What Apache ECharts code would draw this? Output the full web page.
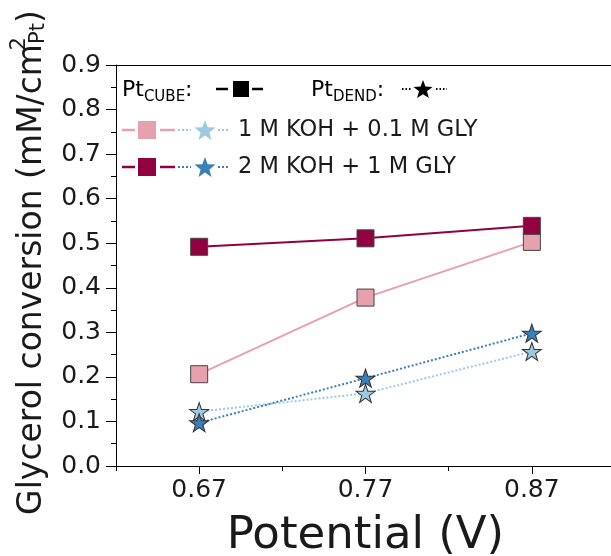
<!DOCTYPE html>
<html>
<head>
<meta charset="utf-8">
<script src="https://cdn.jsdelivr.net/npm/echarts@6/dist/echarts.min.js"></script>
<style>
  html, body { margin: 0; padding: 0; background: #fff; }
  #chart { width: 611px; height: 556px; }
</style>
</head>
<body>
<div id="chart"></div>
<script>
// 数据
var potentials = [0.67, 0.77, 0.87];
var xTicks = [0.67, 0.77, 0.87];
var cubeLow = [0.206, 0.378, 0.503];   // Pt CUBE, 1 M KOH + 0.1 M GLY
var cubeHigh = [0.492, 0.511, 0.539];  // Pt CUBE, 2 M KOH + 1 M GLY
var dendLow = [0.122, 0.163, 0.257];   // Pt DEND, 1 M KOH + 0.1 M GLY
var dendHigh = [0.097, 0.197, 0.298];  // Pt DEND, 2 M KOH + 1 M GLY
var condLabels = ['1 M KOH + 0.1 M GLY', '2 M KOH + 1 M GLY'];

var FONT = 'DejaVu Sans';
var pink = '#e7a0ae', wine = '#91003f', lightBlue = '#9ecae1', darkBlue = '#3a7fba';
var STAR = 'path://M50,0 L61.8,35.1 L98.1,35.1 L68.8,56.7 L79.4,91 L50,70 L20.6,91 L31.2,56.7 L1.9,35.1 L38.2,35.1 Z';

function pts(ys) {
  return potentials.map(function (x, i) { return [x, ys[i]]; });
}

// 图例里的五角星
function starPoints(cx, cy, r) {
  var p = [];
  for (var i = 0; i < 10; i++) {
    var rr = i % 2 === 0 ? r : r * 0.42;
    var a = -Math.PI / 2 + i * Math.PI / 5;
    p.push([cx + rr * Math.cos(a), cy + rr * Math.sin(a)]);
  }
  return p;
}

function legendRow(y, sqColor, starColor, label) {
  return [
    { type: 'line', shape: { x1: 122, y1: y, x2: 135, y2: y }, style: { stroke: sqColor, lineWidth: 2.5 } },
    { type: 'rect', shape: { x: 138, y: y - 9, width: 18, height: 18 }, style: { fill: sqColor } },
    { type: 'line', shape: { x1: 160, y1: y, x2: 175, y2: y }, style: { stroke: sqColor, lineWidth: 2.5 } },
    { type: 'line', shape: { x1: 178, y1: y, x2: 191, y2: y }, style: { stroke: starColor, lineWidth: 2, lineDash: [2, 2] } },
    { type: 'polygon', shape: { points: starPoints(205, y + 1, 11) }, style: { fill: starColor } },
    { type: 'line', shape: { x1: 218, y1: y, x2: 228, y2: y }, style: { stroke: starColor, lineWidth: 2, lineDash: [2, 2] } },
    { type: 'text', style: { text: label, x: 238, y: y, verticalAlign: 'middle', fontSize: 22.5, fontFamily: FONT, fill: '#1a1a1a' } }
  ];
}

var subRich = {
  m: { fontSize: 22, fontFamily: FONT, color: '#1a1a1a', lineHeight: 26, verticalAlign: 'top' },
  s: { fontSize: 15, fontFamily: FONT, color: '#1a1a1a', lineHeight: 16, verticalAlign: 'bottom' }
};

var legendEls = [
  { type: 'text', style: { text: '{m|Pt}{s|CUBE}{m|:}', rich: subRich, x: 122, y: 92, verticalAlign: 'middle' } },
  { type: 'line', shape: { x1: 216, y1: 89, x2: 228, y2: 89 }, style: { stroke: '#000', lineWidth: 2.5 } },
  { type: 'rect', shape: { x: 233, y: 81, width: 16, height: 16 }, style: { fill: '#000' } },
  { type: 'line', shape: { x1: 252, y1: 89, x2: 263, y2: 89 }, style: { stroke: '#000', lineWidth: 2.5 } },
  { type: 'text', style: { text: '{m|Pt}{s|DEND}{m|:}', rich: subRich, x: 311, y: 92, verticalAlign: 'middle' } },
  { type: 'line', shape: { x1: 402, y1: 89, x2: 412, y2: 89 }, style: { stroke: '#000', lineWidth: 2, lineDash: [1.5, 2] } },
  { type: 'polygon', shape: { points: starPoints(423, 90, 10) }, style: { fill: '#000' } },
  { type: 'line', shape: { x1: 436, y1: 89, x2: 447, y2: 89 }, style: { stroke: '#000', lineWidth: 2, lineDash: [1.5, 2] } }
].concat(legendRow(130, pink, lightBlue, condLabels[0]), legendRow(167, wine, darkBlue, condLabels[1]));

var myChart = echarts.init(document.getElementById('chart'), null, { renderer: 'canvas' });

var option = {
  animation: false,
  backgroundColor: '#fff',
  // 右边框在画面外；不让网格自动缩进
  grid: { left: 116, width: 499, top: 65, height: 401, outerBoundsMode: 'none' },
  xAxis: [{
    type: 'value',
    min: 0.62, max: 0.92, interval: 0.1,
    name: 'Potential (V)',
    nameLocation: 'middle',
    nameGap: 48,
    nameTextStyle: { fontSize: 45, fontFamily: FONT, color: '#1a1a1a' },
    axisLine: { lineStyle: { color: '#000', width: 1 } },
    axisTick: { show: true, length: 5, lineStyle: { color: '#000' } },
    minorTick: { show: true, splitNumber: 2, length: 8, lineStyle: { color: '#000', width: 1 } },
    axisLabel: {
      customValues: xTicks,
      margin: 12,
      fontSize: 25, fontFamily: FONT, color: '#1a1a1a',
      formatter: function (v) { return v.toFixed(2); }
    },
    splitLine: { show: false },
    minorSplitLine: { show: false }
  }, {
    type: 'value',
    position: 'top',
    min: 0.62, max: 0.92,
    axisLine: { show: true, onZero: false, lineStyle: { color: '#000', width: 1 } },
    axisTick: { show: false },
    axisLabel: { show: false },
    splitLine: { show: false }
  }],
  yAxis: {
    type: 'value',
    min: 0, max: 0.9, interval: 0.1,
    name: '{m|Glycerol conversion (mM/cm}{sup|2}{sub|Pt}{m|)}',
    nameLocation: 'middle',
    nameGap: 67,
    nameTextStyle: {
      padding: [0, 0, 0, 6],
      rich: {
        m: { fontSize: 33, fontFamily: FONT, color: '#1a1a1a', lineHeight: 40, verticalAlign: 'bottom' },
        sup: { fontSize: 21, fontFamily: FONT, color: '#1a1a1a', lineHeight: 21, width: 0.1, verticalAlign: 'top' },
        sub: { fontSize: 21, fontFamily: FONT, color: '#1a1a1a', lineHeight: 21, verticalAlign: 'bottom' }
      }
    },
    axisLine: { show: true, onZero: false, lineStyle: { color: '#000', width: 1 } },
    axisTick: { show: true, length: 10, lineStyle: { color: '#000' } },
    minorTick: { show: true, splitNumber: 2, length: 5, lineStyle: { color: '#000', width: 1 } },
    axisLabel: {
      margin: 15,
      fontSize: 25, fontFamily: FONT, color: '#1a1a1a',
      formatter: function (v) { return v.toFixed(1); }
    },
    splitLine: { show: false },
    minorSplitLine: { show: false }
  },
  series: [
    {
      name: 'CUBE ' + condLabels[0], type: 'line', data: pts(cubeLow),
      symbol: 'rect', symbolSize: 17,
      lineStyle: { color: pink, width: 2 },
      itemStyle: { color: pink, borderColor: '#444', borderWidth: 1 }
    },
    {
      name: 'CUBE ' + condLabels[1], type: 'line', data: pts(cubeHigh),
      symbol: 'rect', symbolSize: 17,
      lineStyle: { color: wine, width: 2 },
      itemStyle: { color: wine, borderColor: '#444', borderWidth: 1 }
    },
    {
      name: 'DEND ' + condLabels[0], type: 'line', data: pts(dendLow),
      symbol: STAR, symbolSize: [19, 18],
      lineStyle: { color: lightBlue, width: 2, type: [2, 2] },
      itemStyle: { color: lightBlue, borderColor: '#333', borderWidth: 1 }
    },
    {
      name: 'DEND ' + condLabels[1], type: 'line', data: pts(dendHigh),
      symbol: STAR, symbolSize: [19, 18],
      lineStyle: { color: darkBlue, width: 2, type: [2, 2] },
      itemStyle: { color: darkBlue, borderColor: '#333', borderWidth: 1 }
    }
  ],
  graphic: legendEls
};

myChart.setOption(option);
</script>
</body>
</html>
